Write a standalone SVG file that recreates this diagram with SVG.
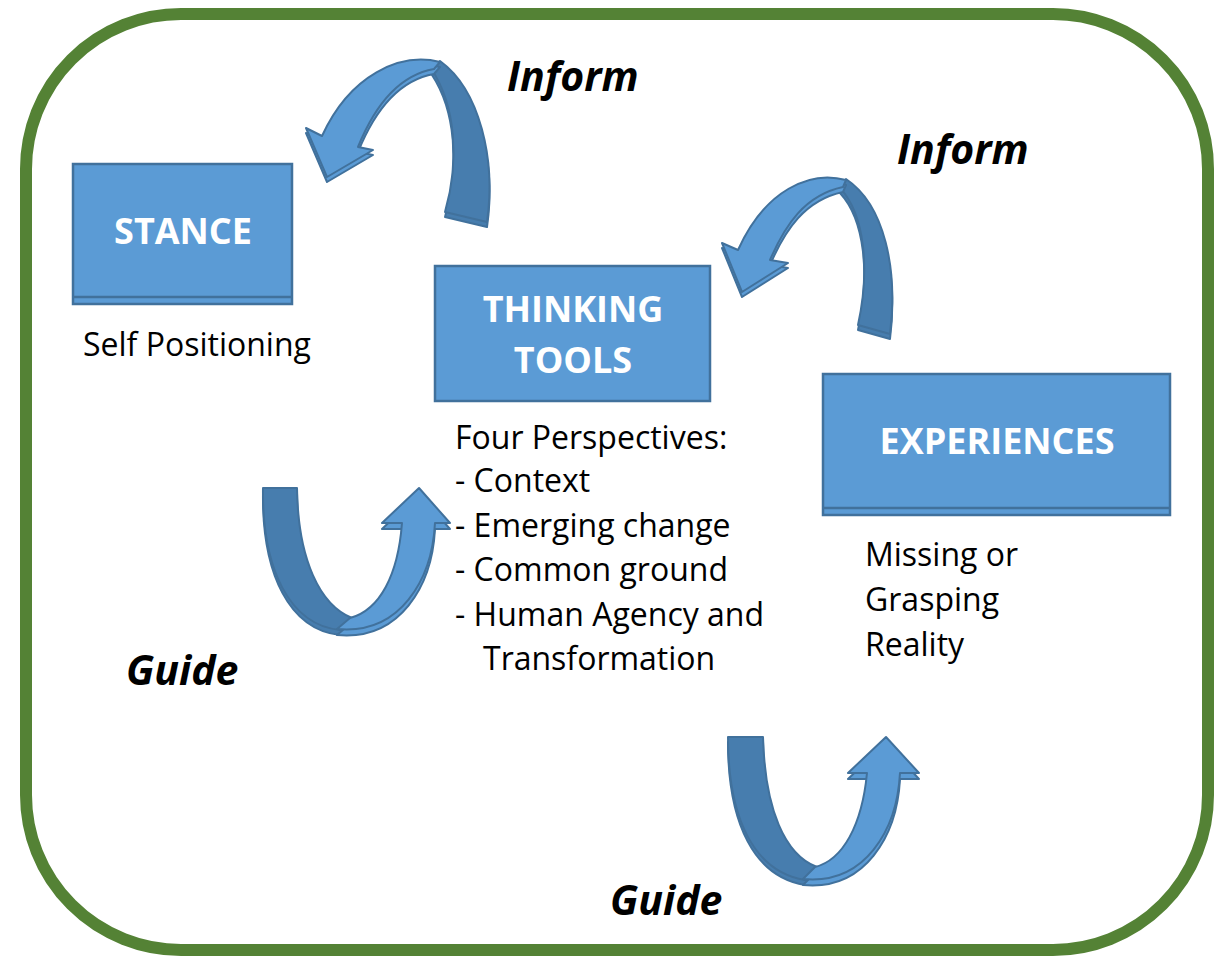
<svg xmlns="http://www.w3.org/2000/svg" width="1220" height="956" viewBox="0 0 1220 956">
<style>
.box{fill:#5b9bd5;stroke:#41719c;stroke-width:2.5}
.ttl{font-family:"Open Sans","Liberation Sans",sans-serif;font-weight:bold;font-size:36px;fill:#ffffff;text-anchor:middle}
.body{font-family:"Open Sans","Liberation Sans",sans-serif;font-size:32px;fill:#000000}
.lbl{font-family:"Open Sans","Liberation Sans",sans-serif;font-weight:bold;font-style:italic;font-size:41px;fill:#000000}
.lt{fill:#5b9bd5;stroke:#41719c;stroke-width:2;stroke-linejoin:round}
.dk{fill:#477dae;stroke:#41719c;stroke-width:2;stroke-linejoin:round}
</style>
<rect x="26" y="14" width="1182" height="936" rx="155" ry="155" fill="#ffffff" stroke="#548235" stroke-width="12"/>

<g id="connectors">
  <g id="inform1">
    <path class="dk" transform="translate(0,5)" d="M 445,212 C 460,160 455,105 432,70 L 440,61 C 480,90 496,160 487,222 Z"/>
    <path class="dk" d="M 445,212 C 460,160 455,105 432,70 L 440,61 C 480,90 496,160 487,222 Z"/>
    <path class="lt" transform="translate(0,5)" d="M 440,62 C 400,52 350,75 322,136 L 306,128 L 327,177 L 373,150 L 358,147 C 375,105 400,75 434,69 Z"/>
    <path class="lt" d="M 440,62 C 400,52 350,75 322,136 L 306,128 L 327,177 L 373,150 L 358,147 C 375,105 400,75 434,69 Z"/>
  </g>
  <g id="inform2">
    <path class="dk" transform="translate(0,5)" d="M 858,325 C 870,270 865,215 840,188 L 846,179 C 885,205 898,270 890,334 Z"/>
    <path class="dk" d="M 858,325 C 870,270 865,215 840,188 L 846,179 C 885,205 898,270 890,334 Z"/>
    <path class="lt" transform="translate(0,5)" d="M 846,180 C 810,170 765,190 738,250 L 722,243 L 742,292 L 788,263 L 770,260 C 785,225 805,195 843,187 Z"/>
    <path class="lt" d="M 846,180 C 810,170 765,190 738,250 L 722,243 L 742,292 L 788,263 L 770,260 C 785,225 805,195 843,187 Z"/>
  </g>
  <g id="guide1">
    <path class="dk" transform="translate(0,5)" d="M 263,488 L 297,488 C 298,560 320,605 352,618 L 340,630 C 290,625 262,570 263,488 Z"/>
    <path class="dk" d="M 263,488 L 297,488 C 298,560 320,605 352,618 L 340,630 C 290,625 262,570 263,488 Z"/>
    <path class="lt" transform="translate(0,6)" d="M 337,629 C 400,635 432,580 435,523 L 450,523 L 419,488 L 382,523 L 402,523 C 398,575 380,610 350,618 Z"/>
    <path class="lt" d="M 337,629 C 400,635 432,580 435,523 L 450,523 L 419,488 L 382,523 L 402,523 C 398,575 380,610 350,618 Z"/>
  </g>
  <g id="guide2">
    <path class="dk" transform="translate(0,5)" d="M 728,737 L 763,737 C 765,810 785,855 817,867 L 805,880 C 755,872 728,820 728,737 Z"/>
    <path class="dk" d="M 728,737 L 763,737 C 765,810 785,855 817,867 L 805,880 C 755,872 728,820 728,737 Z"/>
    <path class="lt" transform="translate(0,6)" d="M 803,879 C 865,885 897,830 900,773 L 919,773 L 886,737 L 848,773 L 867,773 C 862,825 843,860 815,867 Z"/>
    <path class="lt" d="M 803,879 C 865,885 897,830 900,773 L 919,773 L 886,737 L 848,773 L 867,773 C 862,825 843,860 815,867 Z"/>
  </g>
</g>

<g id="stance">
  <rect class="box" x="73" y="164" width="219" height="140"/>
  <line x1="73" y1="297" x2="292" y2="297" stroke="#41719c" stroke-width="2.5"/>
  <text class="ttl" x="183" y="244">STANCE</text>
  <text class="body" x="83" y="356">Self Positioning</text>
</g>

<g id="thinking-tools">
  <rect class="box" x="435" y="266" width="275" height="135"/>
  <text class="ttl" x="573" y="322">THINKING</text>
  <text class="ttl" x="573" y="373">TOOLS</text>
  <text class="body" x="455" y="449">Four Perspectives:</text>
  <text class="body" x="455" y="492">- Context</text>
  <text class="body" x="455" y="537">- Emerging change</text>
  <text class="body" x="455" y="581">- Common ground</text>
  <text class="body" x="455" y="626">- Human Agency and</text>
  <text class="body" x="483" y="670">Transformation</text>
</g>

<g id="experiences">
  <rect class="box" x="823" y="374" width="347" height="141"/>
  <line x1="823" y1="508" x2="1170" y2="508" stroke="#41719c" stroke-width="2.5"/>
  <text class="ttl" x="997" y="454">EXPERIENCES</text>
  <text class="body" x="865" y="566">Missing or</text>
  <text class="body" x="865" y="611">Grasping</text>
  <text class="body" x="865" y="656">Reality</text>
</g>

<g id="labels">
  <text class="lbl" x="507" y="91">Inform</text>
  <text class="lbl" x="897" y="164">Inform</text>
  <text class="lbl" x="126" y="685">Guide</text>
  <text class="lbl" x="610" y="915">Guide</text>
</g>
</svg>
